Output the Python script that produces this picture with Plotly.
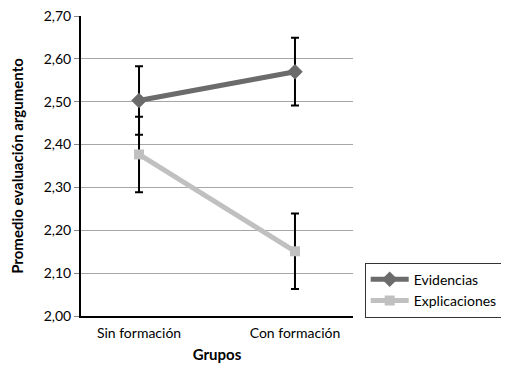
import plotly.graph_objects as go

categories = ["Sin formación", "Con formación"]
evidencias = [2.503, 2.570]
evidencias_err = [0.080, 0.079]
explicaciones = [2.377, 2.151]
explicaciones_err = [0.088, 0.088]
y_ticks = [2.0, 2.1, 2.2, 2.3, 2.4, 2.5, 2.6, 2.7]

FONT = "Lato, 'Open Sans', sans-serif"

fig = go.Figure()
fig.add_trace(go.Scatter(
    x=[0, 1], y=evidencias, name="Evidencias", mode="lines+markers",
    line=dict(color="#6b6b6b", width=5),
    marker=dict(symbol="diamond", size=12, color="#6b6b6b"),
    error_y=dict(type="data", array=evidencias_err, color="black", thickness=2, width=4),
))
fig.add_trace(go.Scatter(
    x=[0, 1], y=explicaciones, name="Explicaciones", mode="lines+markers",
    line=dict(color="#c0c0c0", width=5),
    marker=dict(symbol="square", size=10, color="#c0c0c0"),
    error_y=dict(type="data", array=explicaciones_err, color="black", thickness=2, width=4),
))

fig.update_layout(
    width=509, height=357,
    margin=dict(l=73, r=164, t=8, b=49),
    paper_bgcolor="white", plot_bgcolor="white",
    separators=",.",
    font=dict(family=FONT, size=14, color="black"),
    showlegend=True,
    legend=dict(
        x=1.043, y=0.178, xanchor="left", yanchor="top",
        bordercolor="#333333", borderwidth=1,
        font=dict(size=14), tracegroupgap=3,
        itemwidth=38,
    ),
    xaxis=dict(
        tickmode="array", tickvals=[0, 1], ticktext=categories,
        range=[-0.372, 1.372], automargin=False,
        showline=True, linecolor="black", linewidth=2,
        showgrid=False, zeroline=False, ticks="", ticklabelstandoff=3,
        title=dict(text="<b>Grupos</b>", font=dict(size=15), standoff=10),
    ),
    yaxis=dict(
        range=[2.0, 2.7], tickvals=y_ticks, tickformat=".2f", automargin=False,
        ticklabeloverflow="allow",
        showline=True, linecolor="black", linewidth=2,
        showgrid=True, gridcolor="#a6a6a6", gridwidth=1,
        zeroline=False, ticks="outside", ticklen=5, tickcolor="#888888",
        title=dict(text="<b>Promedio evaluación argumento</b>", font=dict(size=15), standoff=29),
    ),
)

fig.write_html("out.html")
